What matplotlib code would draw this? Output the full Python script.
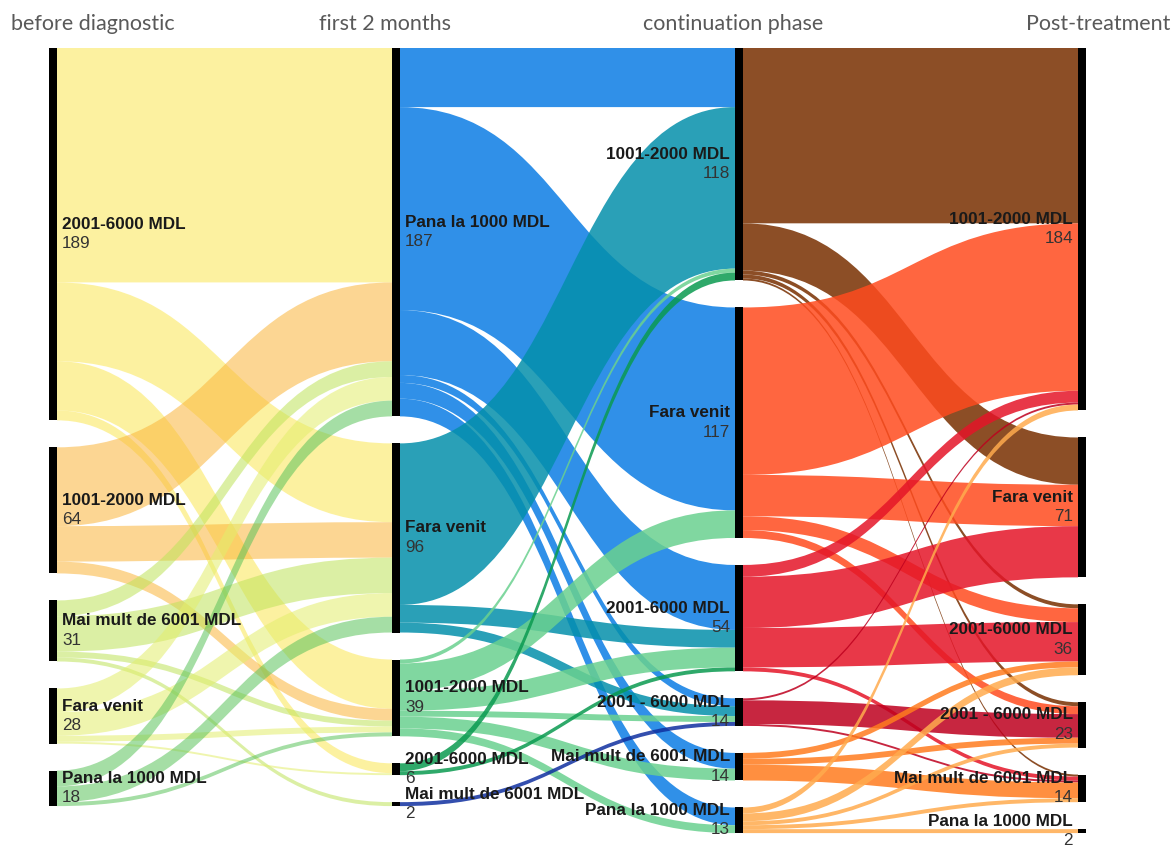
import matplotlib
matplotlib.use("Agg")
import matplotlib.pyplot as plt
from matplotlib.path import Path
from matplotlib.patches import PathPatch, Rectangle

# column headers
stages = ["before diagnostic", "first 2 months", "continuation phase", "Post-treatment"]

# node names per column (top to bottom)
col0_labels = ["2001-6000 MDL", "1001-2000 MDL", "Mai mult de 6001 MDL", "Fara venit", "Pana la 1000 MDL"]
col1_labels = ["Pana la 1000 MDL", "Fara venit", "1001-2000 MDL", "2001-6000 MDL", "Mai mult de 6001 MDL"]
col2_labels = ["1001-2000 MDL", "Fara venit", "2001-6000 MDL", "2001 - 6000 MDL",
               "Mai mult de 6001 MDL", "Pana la 1000 MDL"]
col3_labels = ["1001-2000 MDL", "Fara venit", "2001-6000 MDL", "2001 - 6000 MDL",
               "Mai mult de 6001 MDL", "Pana la 1000 MDL"]

# flows: rows = source node, columns = target node
flows_01 = [
    [119, 40, 25, 5, 0],
    [40, 18, 6, 0, 0],
    [8, 18, 3, 0, 2],
    [12, 12, 3, 1, 0],
    [8, 8, 2, 0, 0],
]
flows_12 = [
    [30, 103, 33, 4, 8, 9],
    [82, 0, 9, 5, 0, 0],
    [2, 14, 10, 3, 6, 4],
    [4, 0, 2, 0, 0, 0],
    [0, 0, 0, 2, 0, 0],
]
flows_23 = [
    [89, 24, 2, 2, 1, 0],
    [85, 21, 7, 4, 0, 0],
    [6, 26, 20, 0, 2, 0],
    [1, 0, 0, 12, 1, 0],
    [0, 0, 3, 3, 8, 0],
    [3, 0, 4, 2, 2, 2],
]

# link colours, one per source node of each stage
colors_01 = ["#fbe752", "#fbb53a", "#bfe35a", "#e3ee6c", "#5cc35c"]
colors_12 = ["#0b7de4", "#048fab", "#6ad18f", "#0a9a50", "#1030a0"]
colors_23 = ["#782f00", "#ff4b1e", "#e41528", "#be001e", "#ff7c1e", "#ffab4d"]

labels = [col0_labels, col1_labels, col2_labels, col3_labels]
flows = [flows_01, flows_12, flows_23]
link_colors = [colors_01, colors_12, colors_23]
link_alpha = [0.55, 0.85, 0.85]

W, H = 1174, 851
top = 48
scale = 1.97      # px per person
gap = 27
bar_x = [49, 392, 735, 1078]
bar_w = 8

# node totals
totals = []
for c in range(4):
    if c < 3:
        out = [sum(r) for r in flows[c]]
    if c > 0:
        inc = [sum(flows[c - 1][i][j] for i in range(len(flows[c - 1])))
               for j in range(len(flows[c - 1][0]))]
    if c == 0:
        totals.append(out)
    elif c == 3:
        totals.append(inc)
    else:
        totals.append([max(a, b) for a, b in zip(out, inc)])

# node positions
node_y = []
for c in range(4):
    ys = []
    y = top
    for v in totals[c]:
        ys.append(y)
        y += v * scale + gap
    node_y.append(ys)

fig = plt.figure(figsize=(W / 100, H / 100), dpi=100)
ax = fig.add_axes([0, 0, 1, 1])
ax.set_xlim(0, W)
ax.set_ylim(H, 0)
ax.axis("off")


def band(x0, x1, y0, y1, h, color, alpha):
    xm = (x0 + x1) / 2
    verts = [(x0, y0), (xm, y0), (xm, y1), (x1, y1),
             (x1, y1 + h), (xm, y1 + h), (xm, y0 + h), (x0, y0 + h), (x0, y0)]
    codes = [Path.MOVETO, Path.CURVE4, Path.CURVE4, Path.CURVE4,
             Path.LINETO, Path.CURVE4, Path.CURVE4, Path.CURVE4, Path.CLOSEPOLY]
    ax.add_patch(PathPatch(Path(verts, codes), facecolor=color,
                           edgecolor="none", alpha=alpha, zorder=1))


for s in range(3):
    fm = flows[s]
    n_src, n_tgt = len(fm), len(fm[0])
    # offsets at source (sorted by target) and target (sorted by source)
    src_off = {}
    for i in range(n_src):
        y = node_y[s][i]
        for j in range(n_tgt):
            src_off[(i, j)] = y
            y += fm[i][j] * scale
    tgt_off = {}
    for j in range(n_tgt):
        y = node_y[s + 1][j]
        for i in range(n_src):
            tgt_off[(i, j)] = y
            y += fm[i][j] * scale
    x0 = bar_x[s] + bar_w
    x1 = bar_x[s + 1]
    for i in range(n_src):
        for j in range(n_tgt):
            v = fm[i][j]
            if v <= 0:
                continue
            band(x0, x1, src_off[(i, j)], tgt_off[(i, j)], v * scale,
                 link_colors[s][i], link_alpha[s])

# node bars and labels
for c in range(4):
    for k, v in enumerate(totals[c]):
        y = node_y[c][k]
        h = v * scale
        ax.add_patch(Rectangle((bar_x[c], y), bar_w, h, facecolor="black",
                               edgecolor="none", zorder=3))
        yc = y + h / 2
        if c < 2:
            tx, ha = bar_x[c] + bar_w + 5, "left"
        else:
            tx, ha = bar_x[c] - 5, "right"
        ax.text(tx, yc - 10, labels[c][k], ha=ha, va="center", fontsize=12.3,
                fontweight="bold", family="Liberation Sans", color="#1a1a1a", zorder=4)
        ax.text(tx, yc + 9.5, str(v), ha=ha, va="center", fontsize=12.3,
                family="Liberation Sans", color="#333333", zorder=4)

# column headers
header_x = [93, 385, 733, 1098]
for t, x in zip(stages, header_x):
    ax.text(x, 24, t, ha="center", va="center", fontsize=15.5, family="Lato",
            color="#595959")

fig.savefig("out.png", dpi=100)
